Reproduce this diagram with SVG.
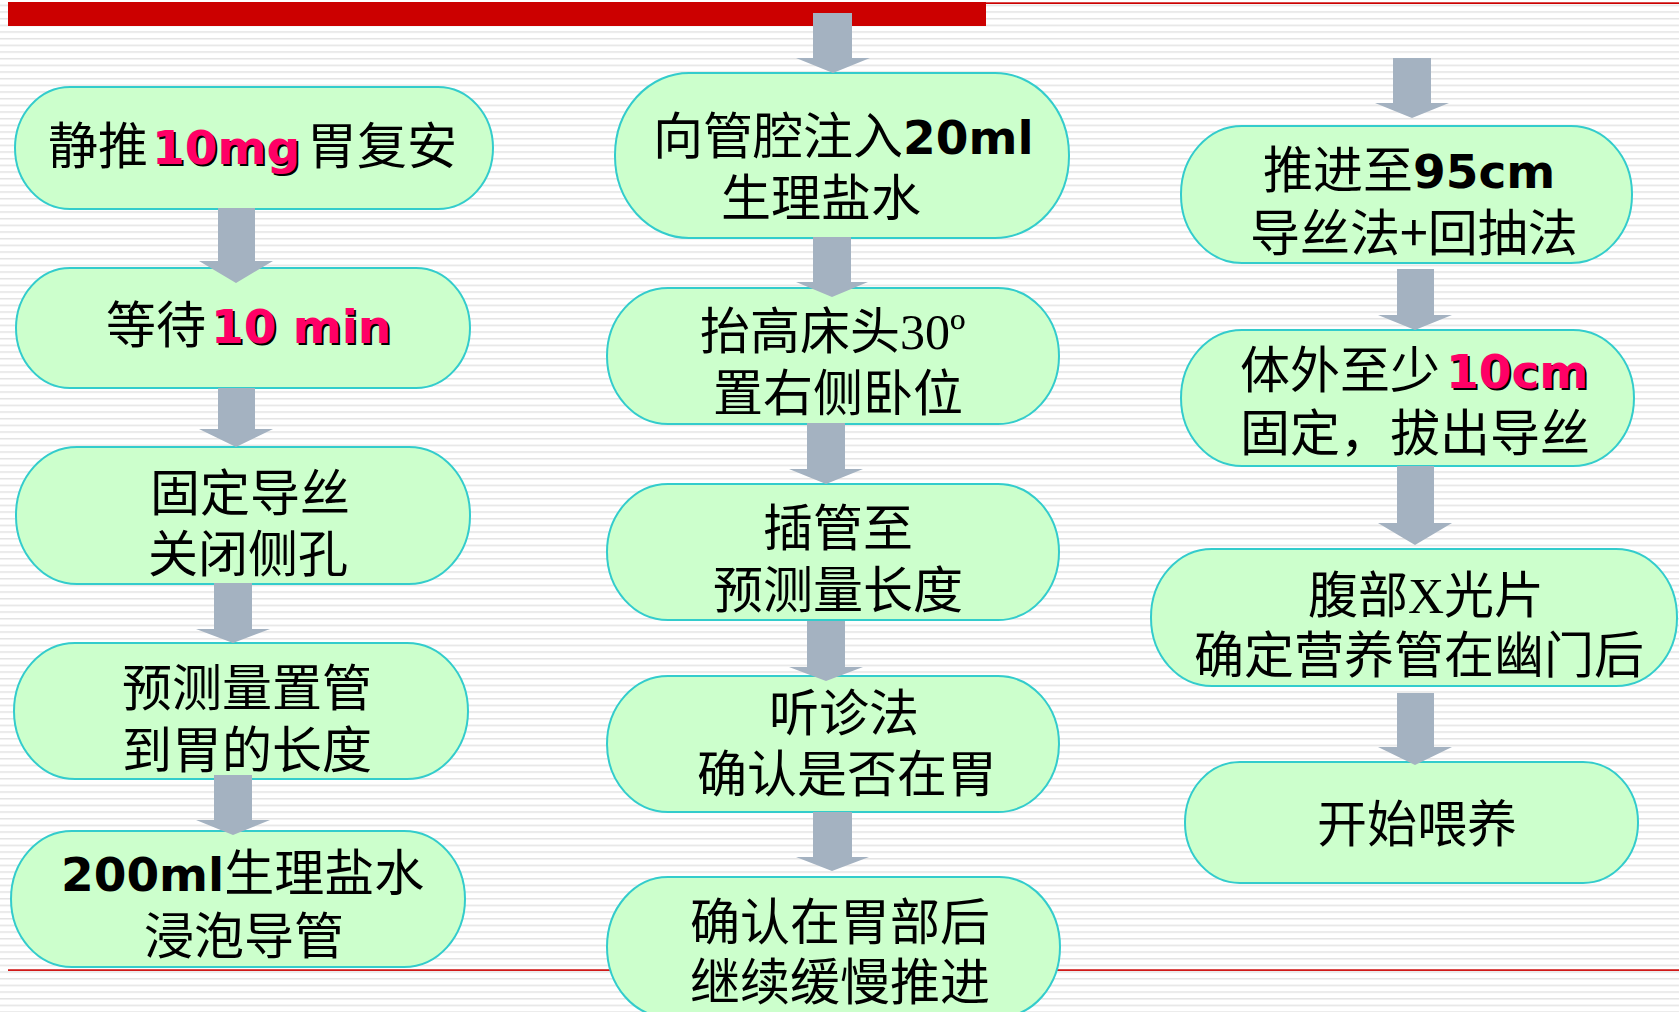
<svg xmlns="http://www.w3.org/2000/svg" width="1679" height="1012" viewBox="0 0 1679 1012">
<defs>
<pattern id="stripes" patternUnits="userSpaceOnUse" x="0" y="4.6" width="20" height="6.667">
<rect x="0" y="0" width="20" height="1.5" fill="#e3e3e3"/>
</pattern>
<style>
.node { fill: #CCFFCC; stroke: #33CCCC; stroke-width: 2; }
.cjk { font-family: "Noto Sans CJK SC", "Noto Sans CJK TC", sans-serif; font-size: 50px; fill: #000; }
.b { font-family: "DejaVu Sans", "Liberation Sans", sans-serif; font-weight: bold; font-size: 47px; }
.pk { fill: #FF0066; text-shadow: 2px 2px 0.5px #000; }
.serif { font-family: "Liberation Serif", serif; }
.arrow { fill: #A4B2C1; }
</style>
</defs>

<rect x="0" y="0" width="1679" height="1012" fill="#ffffff"/>
<rect x="0" y="0" width="1679" height="1012" fill="url(#stripes)"/>
<rect x="8" y="2" width="978" height="24" fill="#CC0000"/>
<rect x="986" y="2.3" width="693" height="1.7" fill="#CC0000"/>
<rect x="8" y="969.3" width="1671" height="1.6" fill="#CC0000"/>

<g id="n-l1">
<rect class="node" x="15" y="87" width="478" height="122" rx="55" ry="61"/>
<text class="cjk" x="48" y="164">静推<tspan class="b pk" x="152">10mg</tspan><tspan x="307">胃复安</tspan></text>
</g>
<g id="n-l2">
<rect class="node" x="16" y="268" width="454" height="120" rx="54" ry="60"/>
<text class="cjk" x="106" y="343">等待<tspan class="b pk" x="211">10 min</tspan></text>
</g>
<g id="n-l3">
<rect class="node" x="16" y="447" width="454" height="137" rx="61" ry="68"/>
<text class="cjk"><tspan x="150" y="511">固定导丝</tspan><tspan x="148" y="572">关闭侧孔</tspan></text>
</g>
<g id="n-l4">
<rect class="node" x="14" y="643" width="454" height="136" rx="61" ry="68"/>
<text class="cjk"><tspan x="122" y="706">预测量置管</tspan><tspan x="122" y="768">到胃的长度</tspan></text>
</g>
<g id="n-l5">
<rect class="node" x="11" y="831" width="454" height="136" rx="61" ry="68"/>
<text class="cjk"><tspan x="61" y="891"><tspan class="b">200ml</tspan>生理盐水</tspan><tspan x="144" y="954">浸泡导管</tspan></text>
</g>

<g id="n-m1">
<rect class="node" x="615" y="73" width="454" height="165" rx="74" ry="82"/>
<text class="cjk"><tspan x="653" y="154">向管腔注入<tspan class="b">20ml</tspan></tspan><tspan x="721" y="216">生理盐水</tspan></text>
</g>
<g id="n-m2">
<rect class="node" x="607" y="288" width="452" height="136" rx="61" ry="68"/>
<text class="cjk"><tspan x="700" y="349">抬高床头<tspan class="serif">30º</tspan></tspan><tspan x="713" y="411">置右侧卧位</tspan></text>
</g>
<g id="n-m3">
<rect class="node" x="607" y="484" width="452" height="136" rx="61" ry="68"/>
<text class="cjk"><tspan x="763" y="546">插管至</tspan><tspan x="713" y="608">预测量长度</tspan></text>
</g>
<g id="n-m4">
<rect class="node" x="607" y="676" width="452" height="136" rx="61" ry="68"/>
<text class="cjk"><tspan x="769" y="731">听诊法</tspan><tspan x="697" y="792">确认是否在胃</tspan></text>
</g>
<g id="n-m5">
<rect class="node" x="607" y="877" width="453" height="140" rx="61" ry="70"/>
<text class="cjk"><tspan x="690" y="940">确认在胃部后</tspan><tspan x="690" y="1000">继续缓慢推进</tspan></text>
</g>

<g id="n-r1">
<rect class="node" x="1181" y="126" width="451" height="137" rx="61" ry="68"/>
<text class="cjk"><tspan x="1263" y="188">推进至<tspan class="b">95cm</tspan></tspan><tspan x="1250" y="251">导丝法+回抽法</tspan></text>
</g>
<g id="n-r2">
<rect class="node" x="1181" y="330" width="453" height="136" rx="61" ry="68"/>
<text class="cjk"><tspan x="1240" y="388">体外至少</tspan><tspan class="b pk" x="1446" y="388">10cm</tspan><tspan x="1240" y="451">固定，拔出导丝</tspan></text>
</g>
<g id="n-r3">
<rect class="node" x="1151" y="549" width="526" height="137" rx="61" ry="68"/>
<text class="cjk"><tspan x="1308" y="613">腹部<tspan class="serif">X</tspan>光片</tspan><tspan x="1194" y="673">确定营养管在幽门后</tspan></text>
</g>
<g id="n-r4">
<rect class="node" x="1185" y="762" width="453" height="121" rx="55" ry="60"/>
<text class="cjk" x="1317" y="842">开始喂养</text>
</g>

<g id="connectors">
<polygon class="arrow" points="813,13 852,13 852,58 870,58 833,73 796,58 813,58"/>
<polygon class="arrow" points="218,208 255,208 255,261 273,261 236,283 199,261 218,261"/>
<polygon class="arrow" points="218,388 255,388 255,429 273,429 236,447 199,429 218,429"/>
<polygon class="arrow" points="214,583 252,583 252,629 270,629 233,643 196,629 214,629"/>
<polygon class="arrow" points="214,775 252,775 252,820 270,820 233,835 196,820 214,820"/>
<polygon class="arrow" points="813,237 851,237 851,282 868,282 832,297 796,282 813,282"/>
<polygon class="arrow" points="807,423 845,423 845,469 863,469 826,484 789,469 807,469"/>
<polygon class="arrow" points="807,621 845,621 845,667 863,667 826,681 789,667 807,667"/>
<polygon class="arrow" points="813,812 852,812 852,857 869,857 832,871 796,857 813,857"/>
<polygon class="arrow" points="1393,58 1431,58 1431,103 1449,103 1412,118 1375,103 1393,103"/>
<polygon class="arrow" points="1397,269 1434,269 1434,315 1452,315 1415,330 1378,315 1397,315"/>
<polygon class="arrow" points="1397,466 1434,466 1434,523 1452,523 1415,545 1378,523 1397,523"/>
<polygon class="arrow" points="1397,693 1434,693 1434,747 1452,747 1415,765 1378,747 1397,747"/>
</g>
</svg>
